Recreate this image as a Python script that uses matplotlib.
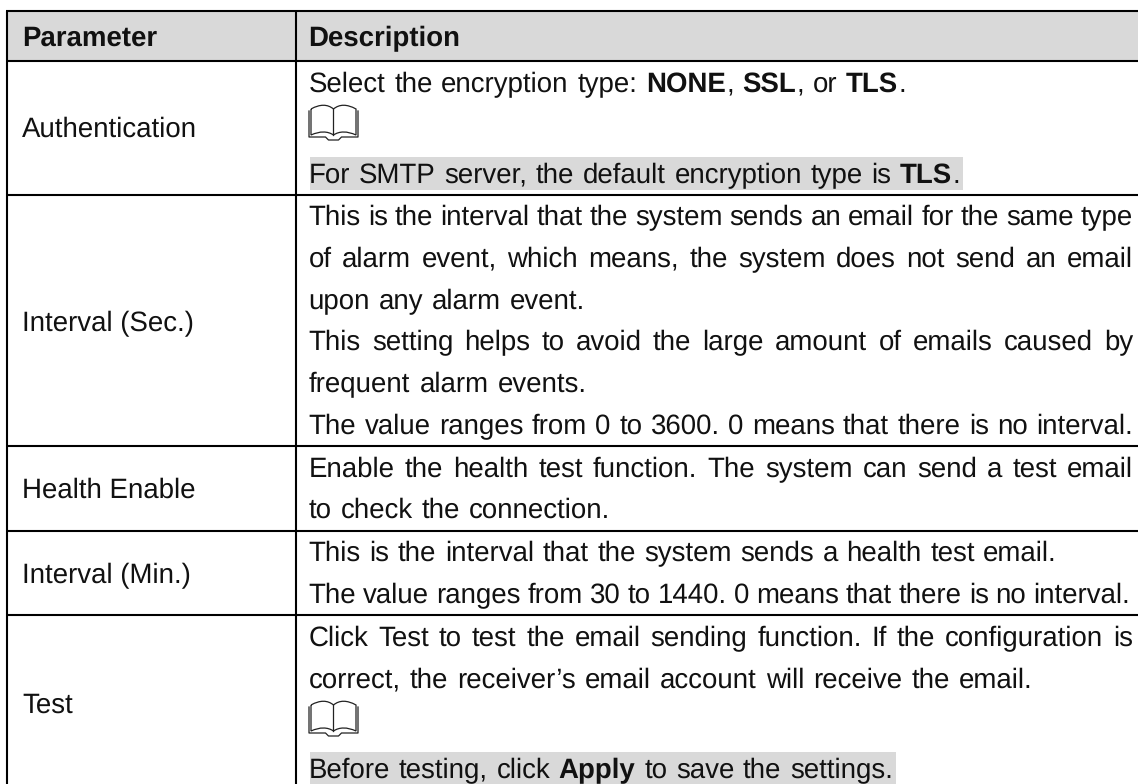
import math
import re
import matplotlib
matplotlib.use("Agg")
import matplotlib.pyplot as plt
from matplotlib.patches import Rectangle, PathPatch
from matplotlib.path import Path
from matplotlib.font_manager import FontProperties

plt.rcParams["text.hinting"] = "none"

# ---- content ----
header_labels = ["Parameter", "Description"]
param_labels = ["Authentication", "Interval (Sec.)", "Health Enable", "Interval (Min.)", "Test"]
param_baselines = [137, 331, 498, 583, 713]
row_lines = [11, 61, 194.5, 446, 530.5, 615]
col_lines = [7.5, 296]

# (baseline, right end of the line, highlighted, [(text, bold), ...])
desc_lines = [
    (92, 906, False, [("Select the encryption type: ", 0), ("NONE", 1), (", ", 0), ("SSL", 1), (", or ", 0), ("TLS", 1), (".", 0)]),
    (183, 960, True, [("For SMTP server, the default encryption type is ", 0), ("TLS", 1), (".", 0)]),
    (225, 1133, False, [("This is the interval that the system sends an email for the same type", 0)]),
    (267, 1133, False, [("of alarm event, which means, the system does not send an email", 0)]),
    (309, 585, False, [("upon any alarm event.", 0)]),
    (350, 1133, False, [("This setting helps to avoid the large amount of emails caused by", 0)]),
    (392, 587, False, [("frequent alarm events.", 0)]),
    (434, 1133, False, [("The value ranges from 0 to 3600. 0 means that there is no interval.", 0)]),
    (477, 1133, False, [("Enable the health test function. The system can send a test email", 0)]),
    (518, 610, False, [("to check the connection.", 0)]),
    (561, 1057, False, [("This is the interval that the system sends a health test email.", 0)]),
    (603, 1130, False, [("The value ranges from 30 to 1440. 0 means that there is no interval.", 0)]),
    (646, 1133, False, [("Click Test to test the email sending function. If the configuration is", 0)]),
    (688, 1033, False, [("correct, the receiver\u2019s email account will receive the email.", 0)]),
    (778, 893, True, [("Before testing, click ", 0), ("Apply", 1), (" to save the settings.", 0)]),
]
book_tops = [106, 702]

# ---- layout ----
W, H = 1138, 784
X_BAND, X_TEXT, X_LABEL = 310, 308.5, 22
FS = 19.9
INK = "#111111"
fig = plt.figure(figsize=(W / 100, H / 100), dpi=100, facecolor="white")
ax = fig.add_axes([0, 0, 1, 1])
ax.set_xlim(0, W)
ax.set_ylim(H, 0)
ax.axis("off")
renderer = fig.canvas.get_renderer()
fp = {b: FontProperties(family="Liberation Sans", size=FS, weight="bold" if b else "normal") for b in (0, 1)}


def tw(s, b):
    return renderer.get_text_width_height_descent(s, fp[b], False)[0]


def put(x, base, s, b):
    # keep every word on one pixel baseline, whatever its ascent and descent
    _, h, d = renderer.get_text_width_height_descent(s, fp[b], False)
    y = base + math.floor(h) - math.floor(h - d) - d
    ax.text(x, y, s, fontproperties=fp[b], color=INK, va="baseline", ha="left", zorder=3)


def draw_line(base, end, highlighted, runs):
    tokens = []
    for s, b in runs:
        tokens.extend((t, b) for t in re.findall(r"\S+|\s+", s))
    word_w = sum(tw(t, b) for t, b in tokens if not t.isspace())
    n_sp = sum(1 for t, b in tokens if t.isspace())
    gap = (end - X_TEXT - word_w) / n_sp
    if highlighted:
        ax.add_patch(Rectangle((X_BAND, base - 26), end + 3 - X_BAND, 33, fc="#d9d9d9", ec="none", zorder=1))
    x = X_TEXT
    for t, b in tokens:
        if t.isspace():
            x += gap
        else:
            put(x, base, t, b)
            x += tw(t, b)


def draw_book(top):
    x0, w, h = 311, 45, 34
    xm = x0 + w / 2
    y0, y1 = top, top + h
    c = "#222222"
    lw = 0.9
    verts = [
        (x0, y0 + 3), (x0 + w * .2, y0 - 2), (xm - 6, y0 - 2), (xm, y0 + 3),
        (xm + 6, y0 - 2), (x0 + w * .8, y0 - 2), (x0 + w, y0 + 3),
        (x0 + w, y1 - 5),
        (x0 + w * .8, y1 - 9), (xm + 6, y1 - 9), (xm, y1 - 5),
        (xm - 6, y1 - 9), (x0 + w * .2, y1 - 9), (x0, y1 - 5), (x0, y0 + 3),
    ]
    codes = [Path.MOVETO, Path.CURVE4, Path.CURVE4, Path.CURVE4, Path.CURVE4, Path.CURVE4, Path.CURVE4,
             Path.LINETO, Path.CURVE4, Path.CURVE4, Path.CURVE4, Path.CURVE4, Path.CURVE4, Path.CURVE4, Path.LINETO]
    ax.add_patch(PathPatch(Path(verts, codes), fc="none", ec=c, lw=lw, zorder=3))
    ax.plot([xm, xm], [y0 + 3, y1 - 5], color=c, lw=lw, zorder=3)
    cover = [(x0 - 2, y0 + 5), (x0 - 2, y1 - 3), (xm - 8, y1 - 3), (xm - 5, y1), (xm + 5, y1), (xm + 8, y1 - 3), (x0 + w + 2, y1 - 3), (x0 + w + 2, y0 + 5)]
    ax.plot(*zip(*cover), color=c, lw=lw, zorder=3)


# header band
ax.add_patch(Rectangle((col_lines[0], row_lines[0]), W, row_lines[1] - row_lines[0], fc="#d9d9d9", ec="none", zorder=0))

# grid
for y in row_lines:
    ax.plot([col_lines[0] - 1, W], [y, y], color="black", lw=1.5, zorder=2, solid_capstyle="butt")
for x in col_lines:
    ax.plot([x, x], [row_lines[0], H], color="black", lw=1.5, zorder=2, solid_capstyle="butt")

# text
put(X_LABEL, 46, header_labels[0], 1)
put(X_TEXT, 46, header_labels[1], 1)
for s, y in zip(param_labels, param_baselines):
    put(X_LABEL, y, s, 0)
for line in desc_lines:
    draw_line(*line)
for t in book_tops:
    draw_book(t)

fig.savefig("out.png", dpi=100)
